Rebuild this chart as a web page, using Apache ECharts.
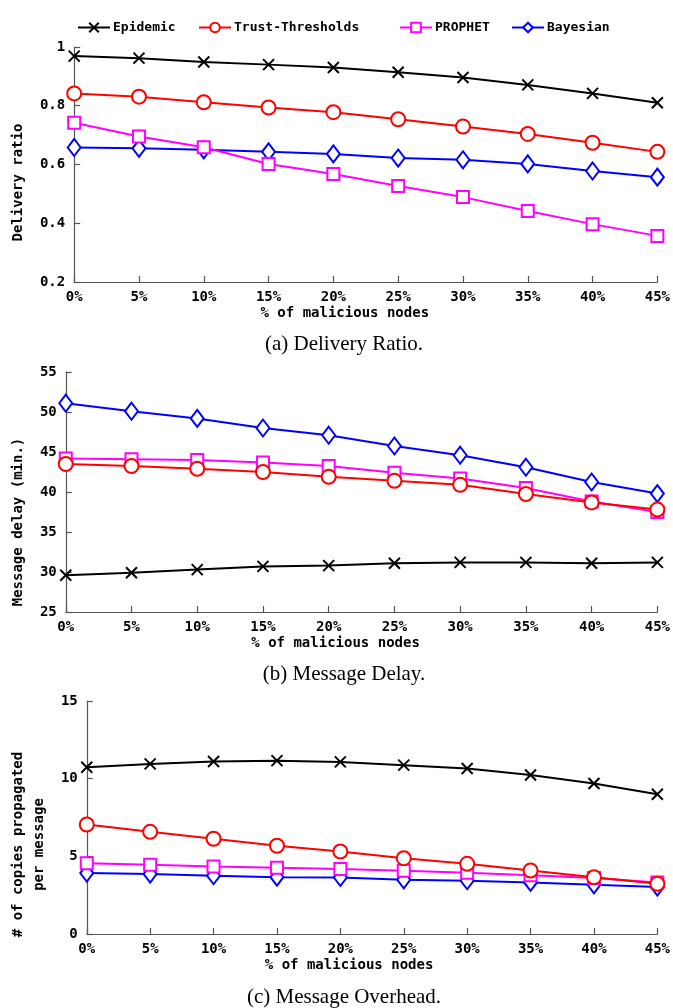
<!DOCTYPE html>
<html>
<head>
<meta charset="utf-8">
<script src="https://cdn.jsdelivr.net/npm/echarts@6/dist/echarts.min.js"></script>
<style>
html,body{margin:0;padding:0;background:#fff;}
#chart{width:673px;height:1008px;}
</style>
</head>
<body>
<div id="chart"></div>
<script>
const categories = ['0%','5%','10%','15%','20%','25%','30%','35%','40%','45%'];
const seriesNames = ['Epidemic','Trust-Thresholds','PROPHET','Bayesian'];

// (a) Delivery ratio
const ratioEpidemic = [0.969,0.962,0.949,0.940,0.930,0.914,0.896,0.871,0.842,0.810];
const ratioTrust    = [0.842,0.831,0.812,0.794,0.778,0.754,0.729,0.704,0.674,0.643];
const ratioProphet  = [0.742,0.695,0.659,0.602,0.568,0.527,0.489,0.442,0.397,0.357];
const ratioBayesian = [0.658,0.655,0.650,0.643,0.636,0.622,0.616,0.602,0.578,0.557];

// (b) Message delay (min.)
const delayEpidemic = [29.6,29.9,30.3,30.7,30.8,31.1,31.2,31.2,31.1,31.2];
const delayTrust    = [43.5,43.25,42.9,42.5,41.9,41.4,40.9,39.75,38.7,37.8];
const delayProphet  = [44.2,44.1,44.0,43.7,43.25,42.4,41.7,40.5,38.8,37.5];
const delayBayesian = [51.1,50.1,49.2,48.0,47.1,45.75,44.6,43.1,41.25,39.8];

// (c) Message overhead
const overEpidemic = [10.74,10.95,11.1,11.16,11.08,10.87,10.65,10.24,9.69,9.0];
const overTrust    = [7.05,6.58,6.13,5.68,5.31,4.88,4.52,4.09,3.66,3.23];
const overProphet  = [4.56,4.46,4.35,4.26,4.18,4.07,3.94,3.79,3.6,3.32];
const overBayesian = [3.92,3.86,3.75,3.66,3.64,3.49,3.43,3.32,3.17,3.02];

const yTicksRatio = {min:0.2, max:1, interval:0.2};
const yTicksDelay = {min:25, max:55, interval:5};
const yTicksOver  = {min:0, max:15, interval:5};

const captions = ['(a) Delivery Ratio.','(b) Message Delay.','(c) Message Overhead.'];
const yNames = ['Delivery ratio','Message delay (min.)','# of copies propagated\nper message'];
const xName = '% of malicious nodes';

const MONO = '"DejaVu Sans Mono", "Liberation Mono", monospace';
const CROSS = 'path://M0,0L10,10M0,10L10,0';

const styles = {
  'Epidemic':        {color:'#000000', symbol:CROSS, size:11, fill:'#000000'},
  'Trust-Thresholds':{color:'#ff0000', symbol:'circle', size:14, fill:'#ffffff'},
  'PROPHET':         {color:'#ff00ff', symbol:'rect', size:12, fill:'#ffffff'},
  'Bayesian':        {color:'#0000ff', symbol:'diamond', size:[13,17], fill:'#ffffff'}
};

const dataSets = [
  [ratioEpidemic, ratioTrust, ratioProphet, ratioBayesian],
  [delayEpidemic, delayTrust, delayProphet, delayBayesian],
  [overEpidemic, overTrust, overProphet, overBayesian]
];

const grids = [
  {left:72, top:47, width:589, height:235},
  {left:61, top:372, width:600, height:240},
  {left:78, top:701, width:583, height:233}
];
const yRanges = [yTicksRatio, yTicksDelay, yTicksOver];
const xNamePad = [[0,42,0,0],[0,52,0,0],[0,46,0,0]];
const yNamePad = [[0,36,0,0],[0,60,0,0],[0,54,0,0]];
const yNameGap = [40, 29, 32];
const captionTop = [334, 664, 987];

const axisLineStyle = {color:'#555', width:1.2};

const xAxes = grids.map((g,i)=>({
  type:'category', gridIndex:i, data:categories, boundaryGap:false,
  axisLine:{show:true, lineStyle:axisLineStyle},
  axisTick:{show:true, inside:true, length:6, alignWithLabel:true, lineStyle:axisLineStyle},
  axisLabel:{color:'#000', fontFamily:MONO, fontWeight:'bold', fontSize:14, margin:8},
  splitLine:{show:false},
  name:xName, nameLocation:'middle', nameGap:24,
  nameTextStyle:{color:'#000', fontFamily:MONO, fontWeight:'bold', fontSize:14, padding:xNamePad[i]}
}));

const yAxes = grids.map((g,i)=>({
  type:'value', gridIndex:i, min:yRanges[i].min, max:yRanges[i].max, interval:yRanges[i].interval,
  axisLine:{show:true, lineStyle:axisLineStyle},
  axisTick:{show:true, inside:true, length:6, lineStyle:axisLineStyle},
  axisLabel:{color:'#000', fontFamily:MONO, fontWeight:'bold', fontSize:14, margin:9},
  splitLine:{show:false},
  name:yNames[i], nameLocation:'middle', nameGap:yNameGap[i], nameRotate:90,
  nameTextStyle:{color:'#000', fontFamily:MONO, fontWeight:'bold', fontSize:14, lineHeight:21, padding:yNamePad[i]}
}));

const series = [];
dataSets.forEach((set, gi)=>{
  set.forEach((vals, si)=>{
    const name = seriesNames[si];
    const st = styles[name];
    series.push({
      type:'line', name:name, xAxisIndex:gi, yAxisIndex:gi, data:vals,
      symbol:st.symbol, symbolSize:st.size, showAllSymbol:true,
      lineStyle:{color:st.color, width:2},
      itemStyle:{color:st.fill, borderColor:st.color, borderWidth:2},
      z: 10 - si,
      animation:false
    });
  });
});

const legendLefts = [72, 193, 394, 506];
const legends = seriesNames.map((n,i)=>({
  data:[n], left:legendLefts[i], top:16, itemWidth:32, itemHeight:12, itemGap:0,
  textStyle:{color:'#000', fontFamily:MONO, fontWeight:'bold', fontSize:13, padding:[0,0,0,-2]}
}));

const titles = captions.map((c,i)=>({
  text:c, left:344, top:captionTop[i], textAlign:'center', padding:0,
  textStyle:{fontFamily:'"Liberation Serif", "Times New Roman", serif', fontWeight:'normal', fontSize:21, color:'#000'}
}));

const chart = echarts.init(document.getElementById('chart'), null, {renderer:'canvas'});
chart.setOption({
  backgroundColor:'#fff',
  animation:false,
  title:titles,
  legend:legends,
  grid:grids,
  xAxis:xAxes,
  yAxis:yAxes,
  series:series
});
</script>
</body>
</html>
